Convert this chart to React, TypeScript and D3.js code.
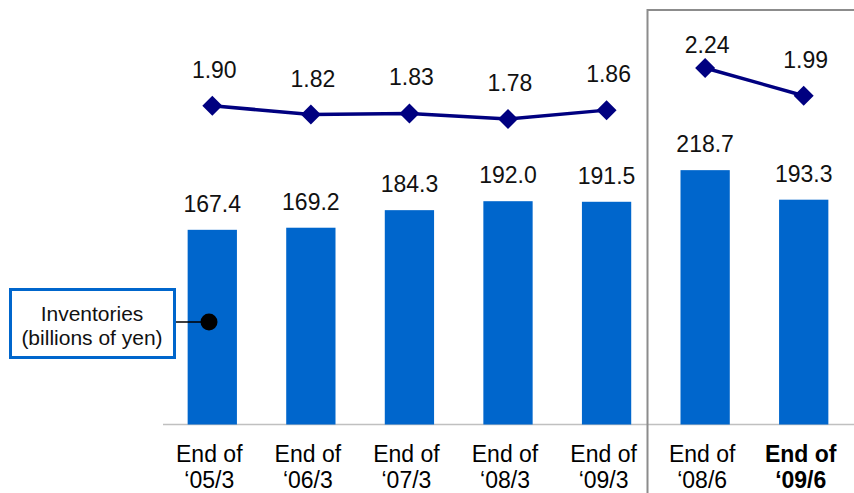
import React from 'react';
import * as d3 from 'd3';

// period-end inventories and turnover (months)
const categories = ['05/3', '06/3', '07/3', '08/3', '09/3', '08/6', '09/6'];
const inventories = [167.4, 169.2, 184.3, 192.0, 191.5, 218.7, 193.3];
const turnover = [1.90, 1.82, 1.83, 1.78, 1.86, 2.24, 1.99];
const periodGroup = ['fy', 'fy', 'fy', 'fy', 'fy', 'q1', 'q1'];
const highlighted = '09/6';

const W = 854, H = 493;
const FONT = '"Liberation Sans", Arial, sans-serif';

export default function App() {
  const x = d3.scaleBand().domain(categories).range([163, 853]).paddingInner(0.5).paddingOuter(0.25);
  const yBar = d3.scaleLinear().domain([0, 365]).range([424.5, 0]);
  const yLine = d3.scaleLinear().domain([1.78, 2.24]).range([119, 68]);
  const cx = (c) => x(c) + x.bandwidth() / 2;

  const line = d3.line().x(d => cx(d.cat)).y(d => yLine(d.v));
  const points = categories.map((c, i) => ({ cat: c, v: turnover[i], g: periodGroup[i] }));
  const groups = d3.groups(points, d => d.g);
  const diamond = d3.symbol(d3.symbolSquare, 200)();

  const dividerX = x(categories[5]) - 33;

  return (
    <svg width={W} height={H} style={{ position: 'absolute', left: 0, top: 0 }} fontFamily={FONT}>
      <rect x={0} y={0} width={W} height={H} fill="#fff" />

      {/* axis baseline */}
      <line x1={163} x2={W} y1={yBar(0)} y2={yBar(0)} stroke="#c0c0c0" strokeWidth={1.5} />

      {/* quarter comparison frame */}
      <rect x={dividerX} y={10} width={W} height={H} fill="none" stroke="#8c8c8c" strokeWidth={2} />

      {categories.map((c, i) => (
        <g key={c}>
          <rect x={x(c)} y={yBar(inventories[i])} width={x.bandwidth()}
            height={yBar(0) - yBar(inventories[i])} fill="#0066cc" />
          <text x={cx(c)} y={yBar(inventories[i]) - 18} textAnchor="middle" fontSize={23} fill="#111">
            {inventories[i].toFixed(1)}
          </text>
          <text x={cx(c) - 3} textAnchor="middle" fontSize={23} fill="#000"
            fontWeight={c === highlighted ? 'bold' : 'normal'}>
            <tspan x={cx(c) - 3} y={462}>End of</tspan>
            <tspan x={cx(c) - 3} y={488}>{'\u2018' + c}</tspan>
          </text>
        </g>
      ))}

      {groups.map(([g, pts]) => (
        <path key={g} d={line(pts)} fill="none" stroke="#000080" strokeWidth={3.5} />
      ))}
      {points.map(p => (
        <g key={p.cat}>
          <path d={diamond} transform={`translate(${cx(p.cat)},${yLine(p.v)}) rotate(45)`} fill="#000080" />
          <text x={cx(p.cat) + 2} y={Math.max(yLine(p.v) - 28, 53)} textAnchor="middle" fontSize={23} fill="#111">
            {p.v.toFixed(2)}
          </text>
        </g>
      ))}

      {/* legend callout */}
      <line x1={175} x2={209} y1={322} y2={322} stroke="#000" strokeWidth={1.5} />
      <circle cx={209} cy={322} r={8.5} fill="#000" />
      <rect x={10.5} y={289.5} width={164} height={68} fill="#fff" stroke="#0066cc" strokeWidth={3} />
      <text x={92} textAnchor="middle" fontSize={21} fill="#111">
        <tspan x={92} y={321}>Inventories</tspan>
        <tspan x={92} y={345}>(billions of yen)</tspan>
      </text>
    </svg>
  );
}
